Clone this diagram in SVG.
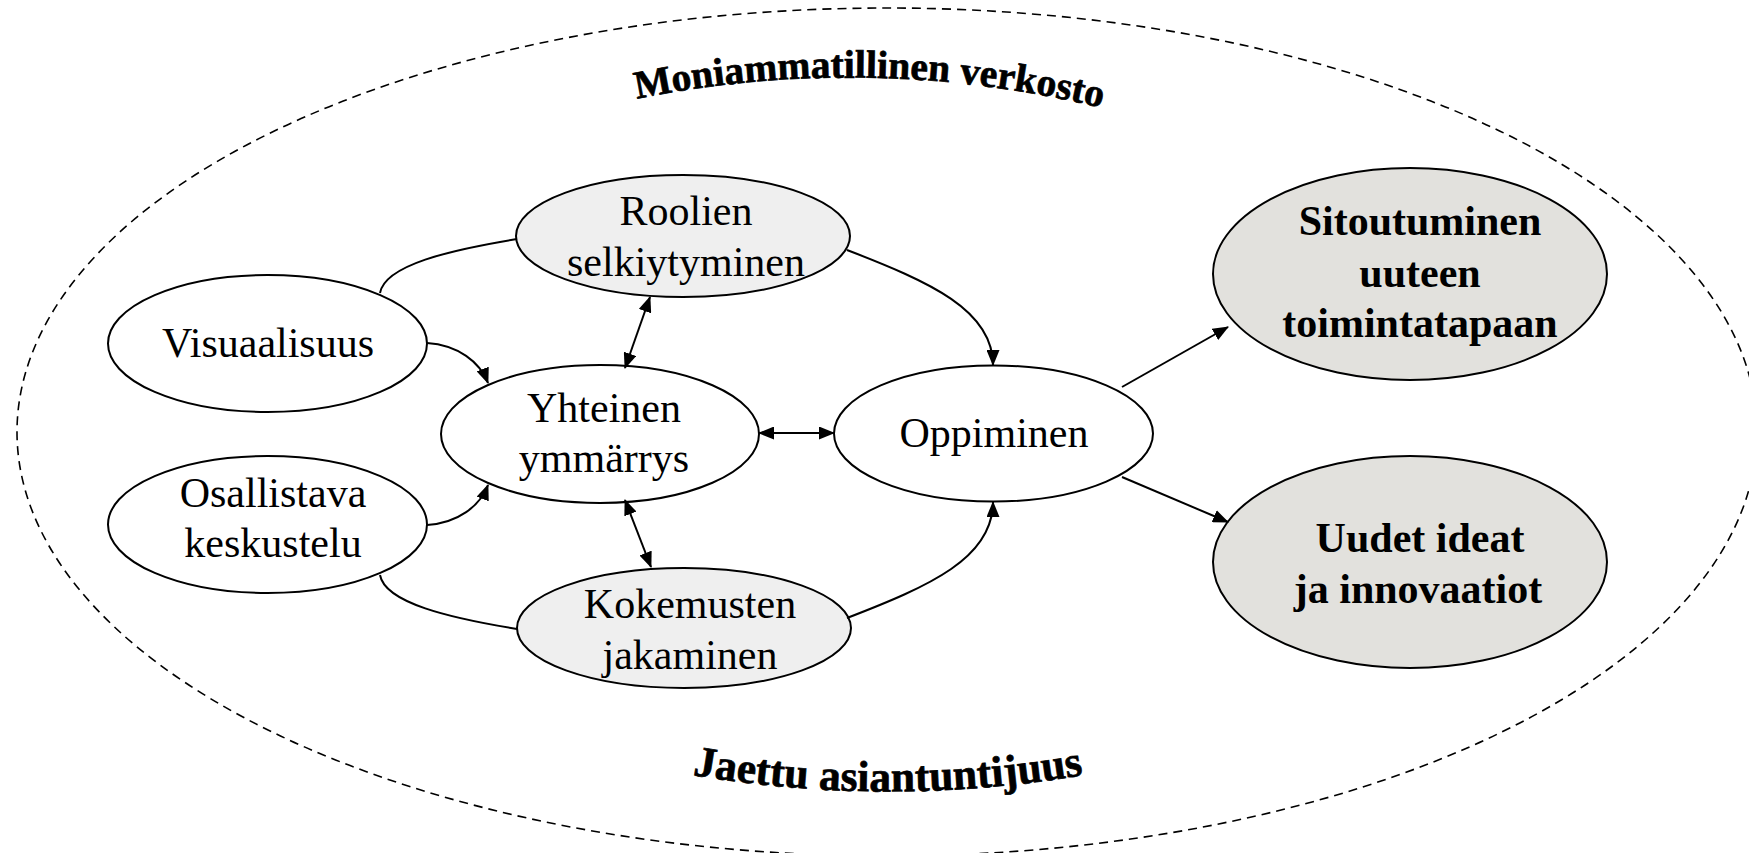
<svg xmlns="http://www.w3.org/2000/svg" width="1749" height="853" viewBox="0 0 1749 853">
<style>
.node{stroke:#000;stroke-width:2}
.plain{fill:#fff}
.light{fill:#efefef}
.grey{fill:#e2e1dd}
.lbl{font-family:"Liberation Serif","Times New Roman",serif;font-size:42px;fill:#000;text-anchor:middle}
.bold{font-weight:bold}
.conn{fill:none;stroke:#000;stroke-width:2}
.arc{font-family:"Liberation Serif","Times New Roman",serif;font-weight:bold;fill:#000;stroke:#000;stroke-width:0.7;text-anchor:middle}
</style>
<defs>
<marker id="arrow" viewBox="0 0 16 13" refX="15" refY="6.5" markerWidth="16" markerHeight="13" markerUnits="userSpaceOnUse" orient="auto-start-reverse">
<path d="M0,0 L16,6.5 L0,13 z" fill="#000"/>
</marker>
<path id="topArc" d="M609,105 A1064,1064 0 0 1 1129,115"/>
<path id="botArc" d="M687,774 A1163,1163 0 0 0 1089,774"/>
</defs>
<rect width="1749" height="853" fill="#fff"/>
<g id="frame">
<ellipse cx="887" cy="432" rx="870" ry="424" fill="none" stroke="#000" stroke-width="1.6" stroke-dasharray="9 6"/>
<text class="arc" font-size="39.5"><textPath href="#topArc" startOffset="50%">Moniammatillinen verkosto</textPath></text>
<text class="arc" font-size="43.5"><textPath href="#botArc" startOffset="50%">Jaettu asiantuntijuus</textPath></text>
</g>
<g id="n-roolien">
<ellipse class="node light" cx="683" cy="236" rx="167" ry="61"/>
<text class="lbl" x="686" y="225">Roolien</text>
<text class="lbl" x="686" y="276">selkiytyminen</text>
</g>
<g id="n-visuaalisuus">
<ellipse class="node plain" cx="267.5" cy="343.5" rx="159.5" ry="68.5"/>
<text class="lbl" x="268" y="357">Visuaalisuus</text>
</g>
<g id="n-yhteinen">
<ellipse class="node plain" cx="600" cy="434" rx="159" ry="69"/>
<text class="lbl" x="604" y="422">Yhteinen</text>
<text class="lbl" x="604" y="472">ymmärrys</text>
</g>
<g id="n-osallistava">
<ellipse class="node plain" cx="267.5" cy="524.5" rx="159.5" ry="68.5"/>
<text class="lbl" x="273" y="507">Osallistava</text>
<text class="lbl" x="273" y="557">keskustelu</text>
</g>
<g id="n-kokemusten">
<ellipse class="node light" cx="684" cy="628" rx="167" ry="60"/>
<text class="lbl" x="690" y="618">Kokemusten</text>
<text class="lbl" x="690" y="669">jakaminen</text>
</g>
<g id="n-oppiminen">
<ellipse class="node plain" cx="993.5" cy="433.5" rx="159.5" ry="68"/>
<text class="lbl" x="994" y="447">Oppiminen</text>
</g>
<g id="n-sitoutuminen">
<ellipse class="node grey" cx="1410" cy="274" rx="197" ry="106"/>
<text class="lbl bold" x="1420" y="235">Sitoutuminen</text>
<text class="lbl bold" x="1420" y="287">uuteen</text>
<text class="lbl bold" x="1420" y="337">toimintatapaan</text>
</g>
<g id="n-uudet">
<ellipse class="node grey" cx="1410" cy="562" rx="197" ry="106"/>
<text class="lbl bold" x="1420" y="552">Uudet ideat</text>
<text class="lbl bold" x="1418" y="603">ja innovaatiot</text>
</g>
<g id="connectors">
<path class="conn" d="M380,293 C385,265 450,250 517,239"/>
<path class="conn" d="M380,575 C385,603 450,618 517,629"/>
<path class="conn" d="M427,343 C458,345 480,362 488,383" marker-end="url(#arrow)"/>
<path class="conn" d="M427,525 C458,523 480,506 488,485" marker-end="url(#arrow)"/>
<path class="conn" d="M847,250 C930,282 993,310 993,365" marker-end="url(#arrow)"/>
<path class="conn" d="M847,618 C930,586 993,558 993,502" marker-end="url(#arrow)"/>
<path class="conn" d="M650,297 L625,368" marker-start="url(#arrow)" marker-end="url(#arrow)"/>
<path class="conn" d="M625,500 L651,567" marker-start="url(#arrow)" marker-end="url(#arrow)"/>
<path class="conn" d="M759,433 L834,433" marker-start="url(#arrow)" marker-end="url(#arrow)"/>
<path class="conn" d="M1122,387 L1228,327" marker-end="url(#arrow)"/>
<path class="conn" d="M1122,477 L1228,522" marker-end="url(#arrow)"/>
</g>
</svg>
